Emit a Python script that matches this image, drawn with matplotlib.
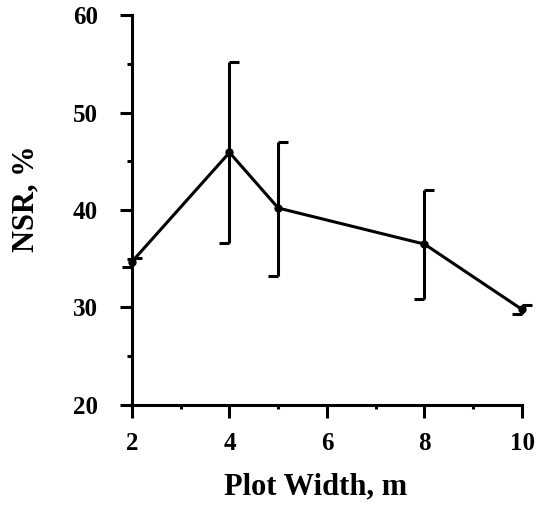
import matplotlib
matplotlib.use("Agg")
import matplotlib.pyplot as plt
from matplotlib.path import Path
from matplotlib.ticker import MultipleLocator

# plot width (m) vs NSR (%), with the error bar ends
width = [2, 4, 5, 8, 10]
nsr = [34.7, 45.9, 40.2, 36.5, 29.8]
nsr_hi = [35.1, 55.2, 47.0, 42.1, 30.3]
nsr_lo = [34.2, 36.6, 33.2, 30.9, 29.3]

plt.rcParams['font.family'] = ['Liberation Serif', 'DejaVu Serif']
plt.rcParams['font.weight'] = 'bold'

fig = plt.figure(figsize=(5.42, 5.07), dpi=100)
ax = fig.add_axes([0.2435, 0.2012, 0.7196, 0.7692])

lw = 2.2
# half caps: top one points right, bottom one points left
right_cap = Path([(0, 0), (1, 0)], [Path.MOVETO, Path.LINETO])
left_cap = Path([(-1, 0), (0, 0)], [Path.MOVETO, Path.LINETO])

ax.vlines(width, nsr_lo, nsr_hi, colors='black', linewidth=lw, clip_on=False)
ax.plot(width, nsr_hi, linestyle='none', marker=right_cap, markersize=15,
        markeredgewidth=lw, color='black', clip_on=False)
ax.plot(width, nsr_lo, linestyle='none', marker=left_cap, markersize=15,
        markeredgewidth=lw, color='black', clip_on=False)
ax.plot(width, nsr, color='black', linewidth=lw, marker='o', markersize=5,
        clip_on=False)

ax.set_xlim(2, 10)
ax.set_ylim(20, 60)
ax.xaxis.set_major_locator(MultipleLocator(2))
ax.xaxis.set_minor_locator(MultipleLocator(1))
ax.yaxis.set_major_locator(MultipleLocator(10))
ax.yaxis.set_minor_locator(MultipleLocator(5))

for side in ['top', 'right']:
    ax.spines[side].set_visible(False)
for side in ['left', 'bottom']:
    ax.spines[side].set_linewidth(lw)

ax.tick_params(axis='both', which='major', direction='out', width=lw,
               labelsize=18, colors='black')
ax.tick_params(axis='y', which='major', length=8.6, pad=16)
ax.tick_params(axis='x', which='major', length=9.4, pad=10)
ax.tick_params(axis='y', which='minor', direction='out', length=3.6, width=lw)
ax.tick_params(axis='x', which='minor', direction='out', length=3, width=lw)

ax.set_xlabel('Plot Width, m', fontsize=22, fontweight='bold')
ax.set_ylabel('NSR, %', fontsize=22, fontweight='bold')
ax.xaxis.set_label_coords(0.47, -0.172)
ax.yaxis.set_label_coords(-0.235, 0.53)

fig.savefig('out.png', dpi=100)
